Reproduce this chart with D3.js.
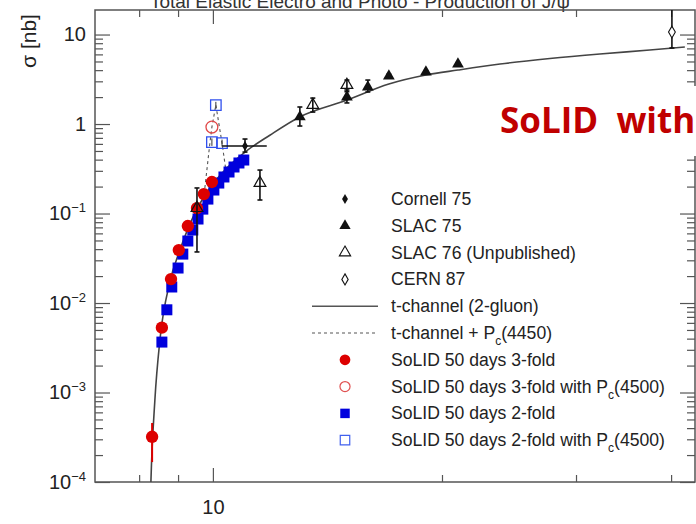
<!DOCTYPE html>
<html>
<head>
<meta charset="utf-8">
<script src="https://cdn.jsdelivr.net/npm/d3@7"></script>
<style>
  body { margin: 0; background: #fff; }
  svg { display: block; font-family: "Liberation Sans", Arial, sans-serif; }
</style>
</head>
<body>
<div id="chart"></div>
<script>
var W = 696, H = 524;
var L = 95, R = 695, T = 10, B = 482;

// SoLID projections (E in GeV, sigma in nb)
var solid3E   = [8.32, 8.57, 8.81, 9.02, 9.27, 9.53, 9.73, 9.97];
var solid3Sig = [3.2e-4, 5.3e-3, 0.0185, 0.039, 0.0725, 0.115, 0.165, 0.225];
var solid3Lo  = [1.67e-4, 5.3e-3, 0.0185, 0.039, 0.0725, 0.115, 0.165, 0.225];
var solid3Hi  = [4.56e-4, 5.3e-3, 0.0185, 0.039, 0.0725, 0.115, 0.165, 0.225];
var solid2E   = [8.57, 8.70, 8.83, 9.00, 9.13, 9.27, 9.41, 9.56, 9.70, 9.85, 10.03, 10.18, 10.34, 10.50, 10.66, 10.82, 10.98];
var solid2Sig = [3.66e-3, 8.4e-3, 0.0151, 0.0246, 0.0352, 0.0493, 0.0654, 0.0868, 0.112, 0.145, 0.183, 0.219, 0.256, 0.291, 0.331, 0.367, 0.396];

// SoLID with Pc(4500)
var pc3E   = [9.97];
var pc3Sig = [0.925];
var pc2E   = [9.97, 10.09, 10.28];
var pc2Sig = [0.629, 1.63, 0.613];
var pc2Lo  = [0.57, 1.5, 0.56];
var pc2Hi  = [0.69, 1.77, 0.67];

// model curves
var gluonE   = [8.26, 8.29, 8.39, 8.52, 8.78, 9.05, 9.47, 9.91, 10.37, 11.02, 11.88, 13.0, 15.0, 17.03, 19.05, 20.99, 23.84, 27.72, 32.25, 37.5, 41.7];
var gluonSig = [3e-5, 1e-4, 8.2e-4, 3.9e-3, 0.0172, 0.039, 0.101, 0.193, 0.306, 0.486, 0.75, 1.2, 1.85, 2.8, 3.53, 4.01, 4.68, 5.39, 6.06, 6.71, 7.25];
var pcCurveE   = [9.76, 9.91, 9.97, 10.09, 10.28, 10.40];
var pcCurveSig = [0.193, 0.613, 0.925, 1.63, 0.613, 0.306];

// published data
var cornellE = [11.02], cornellSig = [0.568], cornellLo = [0.486], cornellHi = [0.68];
var cornellELo = [10.28], cornellEHi = [11.77];
var slac75E   = [13.01, 15.0, 15.98, 17.03, 19.05, 20.99];
var slac75Sig = [1.20, 2.0, 2.59, 3.44, 3.81, 4.68];
var slac75Lo  = [0.95, 1.72, 2.28, 3.3, 3.7, 4.55];
var slac75Hi  = [1.55, 2.40, 3.10, 3.6, 3.95, 4.85];
var slac76E   = [9.53, 11.53, 13.53, 15.0];
var slac76Sig = [0.115, 0.219, 1.63, 2.73];
var slac76Lo  = [0.0372, 0.1416, 1.36, 2.3];
var slac76Hi  = [0.193, 0.306, 1.95, 3.1];
var cernE = [40.1], cernSig = [10.66], cernLo = [7.07], cernHi = [20];

var yMajor = [1e-4, 1e-3, 1e-2, 1e-1, 1, 10];
var xMajor = [10];
var xMinor = [8, 9, 20, 30, 40];
var xLabels = ['10'];

var legendLabels = ['Cornell 75', 'SLAC 75', 'SLAC 76 (Unpublished)', 'CERN 87',
  't-channel (2-gluon)', 't-channel + P_c(4450)', 'SoLID 50 days 3-fold',
  'SoLID 50 days 3-fold with P_c(4500)', 'SoLID 50 days 2-fold', 'SoLID 50 days 2-fold with P_c(4500)'];
var legendKinds = ['cornell', 'slac75', 'slac76', 'cern', 'line', 'dash', 'red', 'redOpen', 'blue', 'blueOpen'];

var RED = '#dd0000', BLUE = '#0000dd', INK = '#555';

var x = d3.scaleLog().domain([7, 43.0]).range([L, R]);
var y = d3.scaleLog().domain([1e-4, 18.8]).range([B, T]);

var svg = d3.select('#chart').append('svg')
  .attr('width', W).attr('height', H);

svg.append('defs').append('clipPath').attr('id', 'plot')
  .append('rect').attr('x', L).attr('y', T).attr('width', R - L).attr('height', B - T);

// title, cut off at the top of the image like in the slide
svg.append('text')
  .attr('x', 360).attr('y', 8)
  .attr('text-anchor', 'middle')
  .attr('font-size', 19)
  .attr('fill', '#333')
  .text('Total Elastic Electro and Photo - Production of J/\u03c8');

// minor ticks of the log y axis
var yMinor = [];
yMajor.forEach(function(m) {
  for (var k = 2; k <= 9; k++) if (m * k < 18.8) yMinor.push(m * k);
});

function styleAxis(g) {
  g.select('.domain').remove();
  g.selectAll('line').attr('stroke', INK).attr('stroke-width', 1.2);
}

svg.append('g').attr('transform', 'translate(' + L + ',0)')
  .call(d3.axisLeft(y).tickValues(yMinor).tickSize(-8).tickFormat(''))
  .call(styleAxis);
svg.append('g').attr('transform', 'translate(' + R + ',0)')
  .call(d3.axisRight(y).tickValues(yMinor).tickSize(-8).tickFormat(''))
  .call(styleAxis);
svg.append('g').attr('transform', 'translate(' + R + ',0)')
  .call(d3.axisRight(y).tickValues(yMajor).tickSize(-15).tickFormat(''))
  .call(styleAxis);

var yAxisG = svg.append('g').attr('transform', 'translate(' + L + ',0)')
  .call(d3.axisLeft(y).tickValues(yMajor).tickSize(-15).tickPadding(9).tickFormat(''))
  .call(styleAxis);
yAxisG.selectAll('text')
  .attr('font-size', 20)
  .attr('font-family', '"Liberation Sans", Arial, sans-serif')
  .attr('fill', '#222')
  .each(function(d) {
    var e = Math.round(Math.log10(d));
    var t = d3.select(this);
    if (e === 0) { t.text('1'); return; }
    if (e === 1) { t.text('10'); return; }
    t.append('tspan').text('10');
    t.append('tspan').attr('dy', -8).attr('font-size', 13).text('\u2212' + (-e));
  });

svg.append('g').attr('transform', 'translate(0,' + B + ')')
  .call(d3.axisBottom(x).tickValues(xMinor).tickSize(-7).tickFormat(''))
  .call(styleAxis);
svg.append('g').attr('transform', 'translate(0,' + T + ')')
  .call(d3.axisTop(x).tickValues(xMinor).tickSize(-7).tickFormat(''))
  .call(styleAxis);
svg.append('g').attr('transform', 'translate(0,' + T + ')')
  .call(d3.axisTop(x).tickValues(xMajor).tickSize(-14).tickFormat(''))
  .call(styleAxis);
svg.append('g').attr('transform', 'translate(0,' + B + ')')
  .call(d3.axisBottom(x).tickValues(xMajor).tickSize(-14).tickPadding(18)
    .tickFormat(function(d, i) { return xLabels[i]; }))
  .call(styleAxis)
  .selectAll('text')
  .attr('font-size', 20)
  .attr('font-family', '"Liberation Sans", Arial, sans-serif')
  .attr('fill', '#222');

svg.append('rect')
  .attr('x', L).attr('y', T).attr('width', R - L).attr('height', B - T)
  .attr('fill', 'none').attr('stroke', INK).attr('stroke-width', 1.5);

// y title
svg.append('text')
  .attr('transform', 'translate(36,41) rotate(-90)')
  .attr('text-anchor', 'middle')
  .attr('font-size', 21)
  .attr('fill', '#222')
  .text('\u03c3 [nb]');

var plot = svg.append('g').attr('clip-path', 'url(#plot)');

function zip(a, b) { return a.map(function(v, i) { return [v, b[i]]; }); }

var line = d3.line()
  .x(function(d) { return x(d[0]); })
  .y(function(d) { return y(d[1]); })
  .curve(d3.curveMonotoneX);

plot.append('path')
  .datum(zip(gluonE, gluonSig))
  .attr('d', line)
  .attr('fill', 'none').attr('stroke', '#444').attr('stroke-width', 1.6);

plot.append('path')
  .datum(zip(pcCurveE, pcCurveSig))
  .attr('d', d3.line().x(function(d) { return x(d[0]); }).y(function(d) { return y(d[1]); }))
  .attr('fill', 'none').attr('stroke', '#555').attr('stroke-width', 1.1)
  .attr('stroke-dasharray', '3,3');

function sym(type, size) { return d3.symbol().type(type).size(size)(); }

// SoLID error bars and markers
plot.selectAll('.e3').data(solid3E).enter().append('line')
  .filter(function(d, i) { return solid3Lo[i] !== solid3Hi[i]; })
  .attr('x1', function(d) { return x(d); }).attr('x2', function(d) { return x(d); })
  .attr('y1', function(d, i) { return y(solid3Lo[i]); })
  .attr('y2', function(d, i) { return y(solid3Hi[i]); })
  .attr('stroke', RED).attr('stroke-width', 2);

plot.selectAll('.s2').data(solid2E).enter().append('path')
  .attr('d', sym(d3.symbolSquare, 121))
  .attr('transform', function(d, i) { return 'translate(' + x(d) + ',' + y(solid2Sig[i]) + ')'; })
  .attr('fill', BLUE);

plot.selectAll('.s3').data(solid3E).enter().append('path')
  .attr('d', sym(d3.symbolCircle, 120))
  .attr('transform', function(d, i) { return 'translate(' + x(d) + ',' + y(solid3Sig[i]) + ')'; })
  .attr('fill', RED);

plot.selectAll('.p2e').data(pc2E).enter().append('line')
  .attr('x1', function(d) { return x(d); }).attr('x2', function(d) { return x(d); })
  .attr('y1', function(d, i) { return y(pc2Lo[i]); })
  .attr('y2', function(d, i) { return y(pc2Hi[i]); })
  .attr('stroke', '#333').attr('stroke-width', 1);

plot.selectAll('.p2').data(pc2E).enter().append('path')
  .attr('d', sym(d3.symbolSquare, 110))
  .attr('transform', function(d, i) { return 'translate(' + x(d) + ',' + y(pc2Sig[i]) + ')'; })
  .attr('fill', 'none').attr('stroke', '#3050ee').attr('stroke-width', 1.3);

plot.selectAll('.p3').data(pc3E).enter().append('path')
  .attr('d', sym(d3.symbolCircle, 110))
  .attr('transform', function(d, i) { return 'translate(' + x(d) + ',' + y(pc3Sig[i]) + ')'; })
  .attr('fill', 'none').attr('stroke', '#e04848').attr('stroke-width', 1.3);

// published points with error bars
function errBars(E, lo, hi, cls) {
  var g = plot.append('g').attr('class', cls).attr('stroke', '#111').attr('stroke-width', 1.6);
  E.forEach(function(e, i) {
    var px = x(e);
    g.append('line').attr('x1', px).attr('x2', px).attr('y1', y(lo[i])).attr('y2', y(hi[i]));
    g.append('line').attr('x1', px - 2.5).attr('x2', px + 2.5).attr('y1', y(lo[i])).attr('y2', y(lo[i]));
    g.append('line').attr('x1', px - 2.5).attr('x2', px + 2.5).attr('y1', y(hi[i])).attr('y2', y(hi[i]));
  });
}

errBars(slac76E, slac76Lo, slac76Hi, 'eb76');
errBars(slac75E, slac75Lo, slac75Hi, 'eb75');
errBars(cornellE, cornellLo, cornellHi, 'ebc');
errBars(cernE, cernLo, cernHi, 'ebcern');

plot.selectAll('.ch').data(cornellE).enter().append('line')
  .attr('x1', function(d, i) { return x(cornellELo[i]); })
  .attr('x2', function(d, i) { return x(cornellEHi[i]); })
  .attr('y1', function(d, i) { return y(cornellSig[i]); })
  .attr('y2', function(d, i) { return y(cornellSig[i]); })
  .attr('stroke', '#111').attr('stroke-width', 1.6);

plot.selectAll('.m75').data(slac75E).enter().append('path')
  .attr('d', sym(d3.symbolTriangle, 60))
  .attr('transform', function(d, i) { return 'translate(' + x(d) + ',' + y(slac75Sig[i]) + ')'; })
  .attr('fill', '#111');

plot.selectAll('.m76').data(slac76E).enter().append('path')
  .attr('d', sym(d3.symbolTriangle, 60))
  .attr('transform', function(d, i) { return 'translate(' + x(d) + ',' + y(slac76Sig[i]) + ')'; })
  .attr('fill', 'none').attr('stroke', '#111').attr('stroke-width', 1.2);

plot.selectAll('.mc').data(cornellE).enter().append('path')
  .attr('d', sym(d3.symbolDiamond, 30))
  .attr('transform', function(d, i) { return 'translate(' + x(d) + ',' + y(cornellSig[i]) + ')'; })
  .attr('fill', '#111');

plot.selectAll('.mcern').data(cernE).enter().append('path')
  .attr('d', sym(d3.symbolDiamond, 40))
  .attr('transform', function(d, i) { return 'translate(' + x(d) + ',' + y(cernSig[i]) + ')'; })
  .attr('fill', '#fff').attr('stroke', '#111').attr('stroke-width', 1.1);

// legend
var lgX = 345, lgTextX = 391, lgY0 = 199, lgStep = 26.8;
var lg = svg.append('g');
legendLabels.forEach(function(lab, i) {
  var cy = lgY0 + i * lgStep;
  var k = legendKinds[i];
  if (k === 'line' || k === 'dash') {
    lg.append('line').attr('x1', 312).attr('x2', 378).attr('y1', cy).attr('y2', cy)
      .attr('stroke', '#555').attr('stroke-width', k === 'line' ? 1.5 : 1.1)
      .attr('stroke-dasharray', k === 'dash' ? '3,3' : null);
  } else {
    var m = lg.append('path').attr('transform', 'translate(' + lgX + ',' + cy + ')');
    if (k === 'cornell') m.attr('d', sym(d3.symbolDiamond, 30)).attr('fill', '#111');
    if (k === 'slac75') m.attr('d', sym(d3.symbolTriangle, 55)).attr('fill', '#111');
    if (k === 'slac76') m.attr('d', sym(d3.symbolTriangle, 55)).attr('fill', 'none').attr('stroke', '#111').attr('stroke-width', 1.1);
    if (k === 'cern') m.attr('d', sym(d3.symbolDiamond, 35)).attr('fill', 'none').attr('stroke', '#111').attr('stroke-width', 1.1);
    if (k === 'red') m.attr('d', sym(d3.symbolCircle, 90)).attr('fill', RED);
    if (k === 'redOpen') m.attr('d', sym(d3.symbolCircle, 80)).attr('fill', 'none').attr('stroke', '#e05050').attr('stroke-width', 1.2);
    if (k === 'blue') m.attr('d', sym(d3.symbolSquare, 90)).attr('fill', BLUE);
    if (k === 'blueOpen') m.attr('d', sym(d3.symbolSquare, 90)).attr('fill', 'none').attr('stroke', '#4060ee').attr('stroke-width', 1.2);
  }
  var t = lg.append('text').attr('x', lgTextX).attr('y', cy + 6)
    .attr('font-size', 17.6).attr('fill', '#222');
  var parts = lab.split('_c');
  t.append('tspan').text(parts[0]);
  if (parts.length > 1) {
    t.append('tspan').attr('dy', 6).attr('font-size', 12).text('c');
    t.append('tspan').attr('dy', -6).text(parts[1]);
  }
});

// slide overlay text
svg.append('rect').attr('x', 488).attr('y', 86).attr('width', 208).attr('height', 70).attr('fill', '#fff');
svg.append('text')
  .attr('x', 500).attr('y', 133)
  .attr('font-family', '"Open Sans", sans-serif')
  .attr('font-weight', 'bold')
  .attr('font-size', 35)
  .attr('fill', '#c00000')
  .attr('xml:space', 'preserve')
  .style('white-space', 'pre')
  .text('SoLID  with');
</script>
</body>
</html>
